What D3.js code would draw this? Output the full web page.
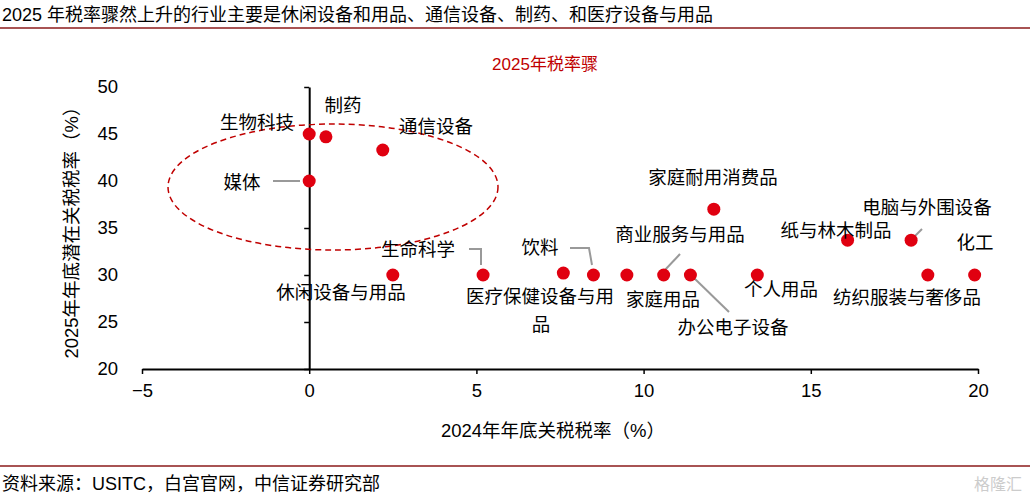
<!DOCTYPE html>
<html><head><meta charset="utf-8">
<script src="https://cdn.jsdelivr.net/npm/d3@7"></script>
<style>
body{margin:0;background:#fff;font-family:"Liberation Sans","Noto Sans CJK SC",sans-serif;}
text{font-family:"Liberation Sans","Noto Sans CJK SC",sans-serif;}
</style></head>
<body><svg id="chart" width="1030" height="499"></svg>
<script>
const industries = ["生物科技","制药","通信设备","媒体","家庭耐用消费品","医疗保健设备与用品","休闲设备与用品","饮料","生命科学","商业服务与用品","家庭用品","办公电子设备","个人用品","纸与林木制品","电脑与外围设备","纺织服装与奢侈品","化工"];
const rate2024 = [0, 0.5, 2.2, 0, 12.1, 7.6, 2.5, 8.5, 5.2, 10.6, 9.5, 11.4, 13.4, 16.1, 18.0, 18.5, 19.9];
const rate2025 = [45, 44.7, 43.3, 40, 37, 30.2, 30, 30, 30, 30, 30, 30, 30, 33.7, 33.7, 30, 30];
const xTicks = [-5, 0, 5, 10, 15, 20];
const yTicks = [20, 25, 30, 35, 40, 45, 50];

// label placement: [x, y, anchor, leader points]
const labelPos = [
  [257,129,"middle",null],
  [343,112,"middle",null],
  [436,133,"middle",null],
  [242,189,"middle",[[273,181],[300,181]]],
  [713,184,"middle",null],
  [540,303,"middle",null],
  [341,299,"middle",null],
  [540,254,"middle",[[570,248],[589,248],[592,265]]],
  [418,256,"middle",[[469,249],[481,249],[481,265]]],
  [680,241,"middle",[[680,254],[664,271]]],
  [663,306,"middle",null],
  [733,334,"middle",[[694,278],[729,312]]],
  [781,296,"middle",null],
  [836,237,"middle",null],
  [927,214,"middle",[[922,229],[914,237]]],
  [907,304,"middle",null],
  [975,249,"middle",null]
];

const FS = 18.5;
const svg = d3.select("#chart");
const x = d3.scaleLinear().domain([-5, 20]).range([142, 978]);
const y = d3.scaleLinear().domain([20, 50]).range([369, 87]);

svg.append("text").attr("x", 2).attr("y", 21).attr("font-size", 18).attr("fill", "#000")
   .text("2025 年税率骤然上升的行业主要是休闲设备和用品、通信设备、制药、和医疗设备与用品");
svg.append("line").attr("x1", 0).attr("x2", 1030).attr("y1", 28).attr("y2", 28).attr("stroke", "#8b1a1a").attr("stroke-width", 1.5);
svg.append("line").attr("x1", 0).attr("x2", 1030).attr("y1", 466).attr("y2", 466).attr("stroke", "#8b1a1a").attr("stroke-width", 1.5);
svg.append("text").attr("x", 2).attr("y", 490).attr("font-size", 18).text("资料来源：USITC，白宫官网，中信证券研究部");
svg.append("text").attr("x", 1022).attr("y", 490).attr("font-size", 16).attr("text-anchor", "end").attr("fill", "#ccc").text("格隆汇");

svg.append("text").attr("x", 545).attr("y", 70).attr("font-size", 17).attr("text-anchor", "middle").attr("fill", "#c00000").text("2025年税率骤");

// axes
const xAxis = svg.append("g").attr("transform", `translate(0,${y(20)})`)
  .call(d3.axisBottom(x).tickValues(xTicks).tickSize(5).tickSizeOuter(0));
const yAxis = svg.append("g").attr("transform", `translate(${x(0)},0)`)
  .call(d3.axisLeft(y).tickValues(yTicks).tickSize(5).tickSizeOuter(0).tickFormat(""));
[xAxis, yAxis].forEach(g => {
  g.select(".domain").attr("stroke", "#000").attr("stroke-width", 2);
  g.selectAll(".tick line").attr("stroke", "#000").attr("stroke-width", 1.5);
});
xAxis.selectAll("text").attr("font-size", FS).attr("fill", "#000").attr("dy", "1.1em");
svg.append("g").selectAll("text").data(yTicks).enter().append("text")
   .attr("x", 118).attr("y", d => y(d)).attr("dy", "0.35em").attr("text-anchor", "end")
   .attr("font-size", FS).text(d => d);

svg.append("text").attr("x", 553).attr("y", 437).attr("font-size", FS).attr("text-anchor", "middle").text("2024年年底关税税率（%）");
svg.append("text").attr("transform", "translate(78,228) rotate(-90)").attr("font-size", FS).attr("text-anchor", "middle").text("2025年年底潜在关税税率（%）");

// dashed ellipse
svg.append("ellipse").attr("cx", 333).attr("cy", 187).attr("rx", 165).attr("ry", 63)
   .attr("fill", "none").attr("stroke", "#c00000").attr("stroke-width", 1.5).attr("stroke-dasharray", "6,4");

// leaders
labelPos.forEach(p => {
  if (p[3]) svg.append("polyline").attr("points", p[3].map(q => q.join(",")).join(" "))
    .attr("fill", "none").attr("stroke", "#999").attr("stroke-width", 2);
});

svg.selectAll(".dot").data(rate2024).enter().append("circle")
   .attr("cx", d => x(d)).attr("cy", (d, i) => y(rate2025[i])).attr("r", 6.5).attr("fill", "#e00010");

labelPos.forEach((p, i) => {
  const t = svg.append("text").attr("x", p[0]).attr("y", p[1]).attr("font-size", FS).attr("text-anchor", p[2]);
  if (i === 5) {
    t.text("医疗保健设备与用");
    svg.append("text").attr("x", 541).attr("y", 331).attr("font-size", FS).attr("text-anchor", "middle").text("品");
  } else t.text(industries[i]);
});
</script></body></html>
